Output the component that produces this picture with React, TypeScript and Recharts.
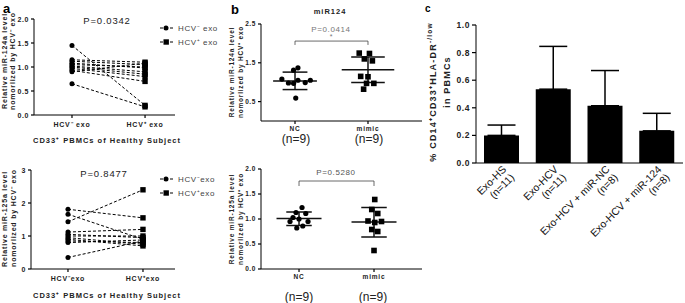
import React from "react";
import {
  ScatterChart,
  Scatter,
  XAxis,
  YAxis,
  ReferenceLine,
  BarChart,
  Bar,
  ErrorBar,
} from "recharts";

// panel a: paired samples, HCV- exo vs HCV+ exo
const pairGroupsTop = ["HCV⁻ exo", "HCV⁺ exo"];
const pairGroupsBottom = ["HCV⁻exo", "HCV⁺exo"];
const miR124aNeg = [1.45, 0.65, 1.15, 1.12, 1.08, 1.05, 1.02, 1.0, 0.97, 0.93, 0.9];
const miR124aPos = [0.2, 0.17, 1.1, 1.05, 0.98, 1.0, 0.9, 0.85, 0.8, 0.7, 1.08];
const miR125aNeg = [1.81, 1.66, 1.43, 0.35, 1.12, 1.05, 1.0, 0.95, 0.9, 0.85, 0.8];
const miR125aPos = [1.55, 0.9, 2.4, 0.85, 1.2, 0.95, 1.0, 0.75, 0.7, 0.8, 0.88];
const ticks124a = [0, 0.5, 1, 1.5, 2];
const ticks125a = [0, 1, 2, 3];

// panel b: NC vs mimic scatter (x = group position with jitter)
const scatterGroups = ["NC", "mimic"];
const nc124X = [0.82, 0.91, 0.98, 0.98, 1.04, 1.04, 1.14, 1.21, 1.01];
const nc124Y = [1.08, 0.98, 1.31, 0.97, 1.37, 1.05, 0.99, 1.05, 0.59];
const mimic124X = [1.88, 2.02, 1.95, 2.06, 1.9, 2.0, 1.98, 2.08, 1.94];
const mimic124Y = [1.75, 1.74, 1.6, 1.55, 1.15, 1.14, 0.97, 0.97, 0.82];
const nc124Stats = { mean: 1.03, lo: 0.81, hi: 1.26 };
const mimic124Stats = { mean: 1.32, lo: 0.99, hi: 1.65 };
const ticksB124 = [0, 0.5, 1, 1.5, 2, 2.5];

const nc125X = [1.04, 0.96, 1.09, 0.92, 1.0, 0.88, 1.12, 1.05, 0.97];
const nc125Y = [1.23, 1.13, 1.11, 1.03, 1.0, 0.95, 0.95, 0.86, 0.82];
const mimic125X = [2.01, 1.97, 2.05, 1.92, 2.01, 2.1, 1.97, 2.05, 2.0];
const mimic125Y = [1.39, 1.19, 1.11, 0.96, 0.93, 0.95, 0.79, 0.75, 0.37];
const nc125Stats = { mean: 1.01, lo: 0.87, hi: 1.14 };
const mimic125Stats = { mean: 0.94, lo: 0.64, hi: 1.23 };
const ticksB125 = [0, 0.5, 1, 1.5, 2];

// panel c: bars
const barGroups = ["Exo-HS", "Exo-HCV", "Exo-HCV + miR-NC", "Exo-HCV + miR-124"];
const barN = ["(n=11)", "(n=11)", "(n=8)", "(n=8)"];
const barMeans = [0.2, 0.535, 0.415, 0.233];
const barSD = [0.075, 0.31, 0.255, 0.127];
const ticksC = [0, 0.2, 0.4, 0.6, 0.8, 1];

// tables built once
const toPairs = (neg: number[], pos: number[]) =>
  neg.map((v, i) => [
    { x: 1, y: v },
    { x: 2, y: pos[i] },
  ]);
const pairs124a = toPairs(miR124aNeg, miR124aPos);
const pairs125a = toPairs(miR125aNeg, miR125aPos);
const toPts = (xs: number[], ys: number[]) => xs.map((x, i) => ({ x, y: ys[i] }));
const nc124 = toPts(nc124X, nc124Y);
const mimic124 = toPts(mimic124X, mimic124Y);
const nc125 = toPts(nc125X, nc125Y);
const mimic125 = toPts(mimic125X, mimic125Y);
const barData = barGroups.map((g, i) => ({ name: g, value: barMeans[i], err: [0, barSD[i]] }));

const FONT = "'Liberation Sans', Arial, sans-serif";
const DASH = { stroke: "#000", strokeWidth: 1, strokeDasharray: "3 2" };

// default tick geometry puts the label anchor 8px from the axis line;
// the short tick marks are drawn here instead
const YTick = (p: any) => {
  const { x, y, payload, dg, fs, gap } = p;
  return (
    <g>
      <line x1={x + 8 - gap} x2={x + 8} y1={y} y2={y} stroke="#000" strokeWidth={1.2} />
      <text
        x={x + 6 - gap}
        y={y}
        dy={fs * 0.36}
        textAnchor="end"
        fontSize={fs}
        fontWeight={700}
        fill="#222"
        letterSpacing={0.6}
        fontFamily={FONT}
      >
        {Number(payload.value).toFixed(dg)}
      </text>
    </g>
  );
};

const XTick = (p: any) => {
  const { x, y, payload, labels, fs, dy } = p;
  return (
    <g>
      <line x1={x} x2={x} y1={y - 8} y2={y - 5} stroke="#000" strokeWidth={1.2} />
      <text x={x} y={y + dy} textAnchor="middle" fontSize={fs} fontWeight={700} fill="#222" letterSpacing={0.8} fontFamily={FONT}>
        {labels[payload.value - 1]}
      </text>
    </g>
  );
};

const SlantTick = (p: any) => {
  const { x, y, payload, index } = p;
  return (
    <g transform={`translate(${x + 5},${y - 1}) rotate(-45)`}>
      <text textAnchor="end" fontSize={10.5} fill="#111" fontFamily={FONT}>
        <tspan x={0} dy={0}>
          {payload.value}
        </tspan>
        <tspan x={0} dy={11.5}>
          {barN[index]}
        </tspan>
      </text>
    </g>
  );
};

const xTickATop = <XTick labels={pairGroupsTop} fs={7} dy={3.5} />;
const xTickABottom = <XTick labels={pairGroupsBottom} fs={7} dy={3.5} />;
const xTickB = <XTick labels={scatterGroups} fs={6.5} dy={1.5} />;
const yTickA1 = <YTick dg={1} fs={7} gap={3} />;
const yTickA0 = <YTick dg={0} fs={7} gap={3} />;
const yTickB = <YTick dg={1} fs={6.5} gap={3} />;
const yTickC = <YTick dg={1} fs={8.5} gap={4} />;
const slantTick = <SlantTick />;

const pairDot = (p: any) =>
  p.payload.x === 1 ? (
    <circle cx={p.cx} cy={p.cy} r={2.5} fill="#000" />
  ) : (
    <rect x={p.cx - 2.7} y={p.cy - 2.7} width={5.4} height={5.4} fill="#000" />
  );
const circleDot = (p: any) => <circle cx={p.cx} cy={p.cy} r={2.6} fill="#000" />;
const squareDot = (p: any) => <rect x={p.cx - 2.8} y={p.cy - 2.8} width={5.6} height={5.6} fill="#000" />;

function PairedChart({ pairs, xTick, yTick, yMax, yTicks, xDomain, yw, top, height }: any) {
  return (
    <ScatterChart width={185} height={height} margin={{ top, right: 10, bottom: 0, left: 0 }}>
      <XAxis type="number" dataKey="x" domain={xDomain} ticks={[1, 2]} height={20} stroke="#000" tickLine={false} tick={xTick} />
      <YAxis type="number" dataKey="y" domain={[0, yMax]} ticks={yTicks} width={yw} stroke="#000" tickLine={false} tick={yTick} />
      {pairs.map((d: any, i: number) => (
        <Scatter key={i} data={d} line={DASH} shape={pairDot} isAnimationActive={false} />
      ))}
    </ScatterChart>
  );
}

function statLines(cx: number, s: any, half: number, cap: number) {
  const seg = (x1: number, y1: number, x2: number, y2: number, k: string) => (
    <ReferenceLine
      key={k}
      segment={[
        { x: x1, y: y1 },
        { x: x2, y: y2 },
      ]}
      stroke="#111"
      strokeWidth={1.5}
      ifOverflow="visible"
    />
  );
  return [
    seg(cx - half, s.mean, cx + half, s.mean, "m" + cx),
    seg(cx - cap, s.hi, cx + cap, s.hi, "h" + cx),
    seg(cx - cap, s.lo, cx + cap, s.lo, "l" + cx),
    seg(cx, s.lo, cx, s.hi, "v" + cx),
  ];
}

function bracket(y: number, drop: number) {
  const st = { stroke: "#444", strokeWidth: 0.8, ifOverflow: "visible" as const };
  return [
    <ReferenceLine key="b1" segment={[{ x: 1, y }, { x: 2, y }]} {...st} />,
    <ReferenceLine key="b2" segment={[{ x: 1, y }, { x: 1, y: y - drop }]} {...st} />,
    <ReferenceLine key="b3" segment={[{ x: 2, y }, { x: 2, y: y - drop }]} {...st} />,
  ];
}

function GroupChart({ nc, mi, ncS, miS, yMax, yTicks, xDomain, top, height, br, mimicHalf, mimicCap }: any) {
  return (
    <ScatterChart width={182} height={height} margin={{ top, right: 0, bottom: 0, left: 0 }}>
      <XAxis type="number" dataKey="x" domain={xDomain} ticks={[1, 2]} height={15} stroke="#000" tickLine={false} tick={xTickB} />
      <YAxis type="number" dataKey="y" domain={[0, yMax]} ticks={yTicks} width={21} stroke="#000" tickLine={false} tick={yTickB} />
      {bracket(br, 0.1)}
      <Scatter data={nc} shape={circleDot} isAnimationActive={false} />
      <Scatter data={mi} shape={squareDot} isAnimationActive={false} />
      {statLines(1, ncS, 0.3, 0.17)}
      {statLines(2, miS, mimicHalf, mimicCap)}
    </ScatterChart>
  );
}

function LegendRow({ x, y, square, label }: any) {
  return (
    <g>
      <line x1={x} y1={y} x2={x + 13} y2={y} stroke="#000" strokeDasharray="3 2" />
      {square ? (
        <rect x={x + 3.5} y={y - 2.7} width={5.4} height={5.4} fill="#000" />
      ) : (
        <circle cx={x + 6} cy={y} r={2.5} fill="#000" />
      )}
      <text x={x + 18} y={y + 3} fontSize={8} fill="#444" letterSpacing={0.6}>
        {label}
      </text>
    </g>
  );
}

function VText({ x, y, children, size = 7, weight = 700, spacing = 0.8 }: any) {
  return (
    <text
      transform={`translate(${x},${y}) rotate(-90)`}
      textAnchor="middle"
      fontSize={size}
      fontWeight={weight}
      letterSpacing={spacing}
      fill="#222"
    >
      {children}
    </text>
  );
}

export default function App() {
  return (
    <div style={{ position: "absolute", left: 0, top: 0, width: 685, height: 303, background: "#fff", fontFamily: FONT }}>
      <div style={{ position: "absolute", left: 0, top: 0 }}>
        <PairedChart
          pairs={pairs124a}
          xTick={xTickATop}
          yTick={yTickA1}
          yMax={2}
          yTicks={ticks124a}
          xDomain={[0.48, 2.41]}
          yw={34}
          top={19}
          height={135}
        />
      </div>
      <div style={{ position: "absolute", left: 0, top: 150 }}>
        <PairedChart
          pairs={pairs125a}
          xTick={xTickABottom}
          yTick={yTickA0}
          yMax={3}
          yTicks={ticks125a}
          xDomain={[0.507, 2.427]}
          yw={31}
          top={20}
          height={139}
        />
      </div>
      <div style={{ position: "absolute", left: 240, top: 0 }}>
        <GroupChart
          nc={nc124}
          mi={mimic124}
          ncS={nc124Stats}
          miS={mimic124Stats}
          yMax={2.5}
          yTicks={ticksB124}
          xDomain={[0.534, 2.74]}
          top={24}
          height={136}
          br={2.06}
          mimicHalf={0.36}
          mimicCap={0.23}
        />
      </div>
      <div style={{ position: "absolute", left: 240, top: 150 }}>
        <GroupChart
          nc={nc125}
          mi={mimic125}
          ncS={nc125Stats}
          miS={mimic125Stats}
          yMax={2}
          yTicks={ticksB125}
          xDomain={[0.493, 2.64]}
          top={19}
          height={134}
          br={1.76}
          mimicHalf={0.3}
          mimicCap={0.17}
        />
      </div>
      <div style={{ position: "absolute", left: 440, top: 0 }}>
        <BarChart width={245} height={303} data={barData} margin={{ top: 25, right: 2, bottom: 0, left: 0 }} barSize={35}>
          <XAxis dataKey="name" height={140} interval={0} stroke="#000" tickLine={false} tick={slantTick} />
          <YAxis domain={[0, 1]} ticks={ticksC} width={36} stroke="#000" tickLine={false} tick={yTickC} />
          <Bar dataKey="value" fill="#000" isAnimationActive={false}>
            <ErrorBar dataKey="err" width={14} stroke="#000" strokeWidth={1.5} direction="y" />
          </Bar>
        </BarChart>
      </div>

      <svg width={685} height={303} style={{ position: "absolute", left: 0, top: 0, pointerEvents: "none", fontFamily: FONT }}>
        <text x={3} y={13} fontSize={13} fontWeight={700}>a</text>
        <text x={231} y={14} fontSize={13} fontWeight={700}>b</text>
        <text x={425} y={12} fontSize={10} fontWeight={700}>c</text>

        {/* panel a top */}
        <VText x={7} y={61}>Relative miR-124a level</VText>
        <VText x={15} y={61}>nomorlized by HCV⁻ exo</VText>
        <text x={107} y={24} fontSize={9.5} textAnchor="middle" letterSpacing={0.8} fill="#222">P=0.0342</text>
        <LegendRow x={160} y={28} label="HCV⁻ exo" />
        <LegendRow x={160} y={42} square label="HCV⁺ exo" />
        <text x={107} y={143} fontSize={7.5} fontWeight={700} textAnchor="middle" letterSpacing={1} fill="#222">CD33⁺ PBMCs of Healthy Subject</text>

        {/* panel a bottom */}
        <VText x={7} y={219}>Relative miR-125a level</VText>
        <VText x={16} y={218}>nomorlized by HCV⁻ exo</VText>
        <text x={104} y={177} fontSize={9.5} textAnchor="middle" letterSpacing={0.8} fill="#222">P=0.8477</text>
        <LegendRow x={160} y={179} label="HCV⁻exo" />
        <LegendRow x={160} y={193} square label="HCV⁺exo" />
        <text x={107} y={298} fontSize={7.5} fontWeight={700} textAnchor="middle" letterSpacing={1} fill="#222">CD33⁺ PBMCs of Healthy Subject</text>

        {/* panel b */}
        <text x={330} y={14} fontSize={7.5} fontWeight={700} textAnchor="middle" letterSpacing={1} fill="#222">miR124</text>
        <VText x={234} y={72} size={6.5}>Relative miR-124a level</VText>
        <VText x={243} y={72} size={6.5}>nomorlized by HCV⁺ exo</VText>
        <text x={331} y={32} fontSize={8} textAnchor="middle" letterSpacing={0.6} fill="#777">P=0.0414</text>
        <text x={331} y={39} fontSize={7} textAnchor="middle" fill="#777">*</text>
        <text x={296} y={143} fontSize={12} textAnchor="middle" fill="#222">(n=9)</text>
        <text x={369} y={143} fontSize={12} textAnchor="middle" fill="#222">(n=9)</text>

        <VText x={234} y={219} size={6.5}>Relative miR-125a level</VText>
        <VText x={243} y={219} size={6.5}>nomorlized by HCV⁺ exo</VText>
        <text x={336} y={175} fontSize={8} textAnchor="middle" letterSpacing={0.6} fill="#555">P=0.5280</text>
        <text x={299} y={301} fontSize={12} textAnchor="middle" fill="#222">(n=9)</text>
        <text x={373} y={301} fontSize={12} textAnchor="middle" fill="#222">(n=9)</text>

        {/* panel c */}
        <VText x={436} y={92} size={9} spacing={1.2}>
          % CD14⁺CD33⁺HLA-DR
          <tspan fontSize={6.5} dy={-4}>-/low</tspan>
        </VText>
        <VText x={450} y={82} size={9} spacing={1.2}>in PBMCs</VText>
      </svg>
    </div>
  );
}
